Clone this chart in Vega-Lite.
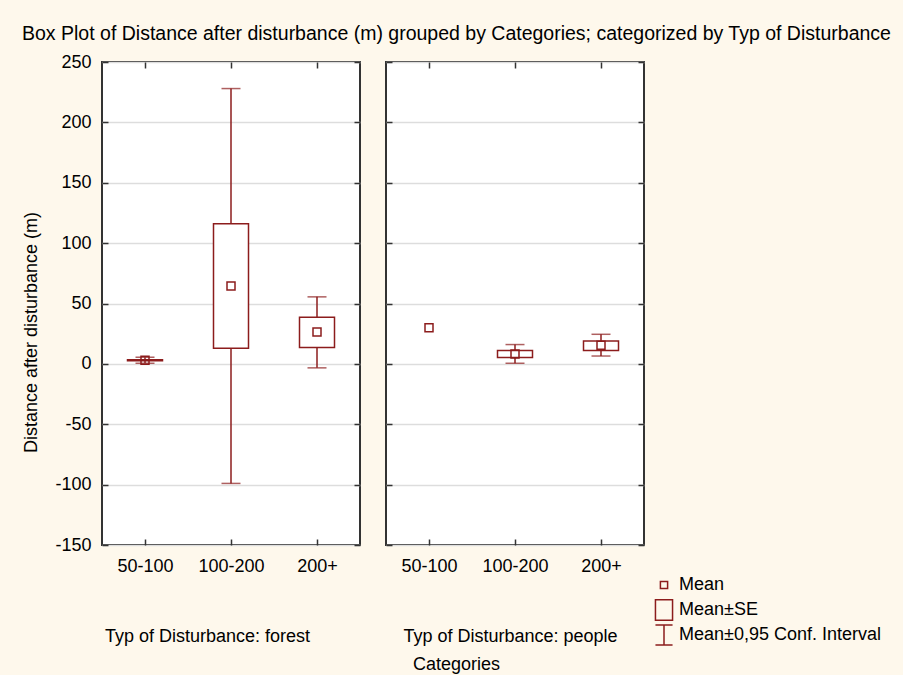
{
  "$schema": "https://vega.github.io/schema/vega-lite/v6.json",
  "autosize": {"type": "pad"},
  "padding": {"left": 21, "top": 23, "right": 80, "bottom": 30},
  "background": "#FEF8EC",
  "title": {
    "text": "Box Plot of Distance after disturbance (m) grouped by  Categories; categorized by Typ of Disturbance",
    "anchor": "start",
    "frame": "group",
    "dx": -80,
    "offset": 8,
    "font": "Liberation Sans",
    "fontSize": 19.5,
    "fontWeight": "normal",
    "color": "#000000"
  },
  "datasets": {
    "stats": [
      {"panel": "forest", "cat": "50-100", "mean": 3, "se_lo": 2.5, "se_hi": 3.5, "ci_lo": 0.5, "ci_hi": 5.5},
      {"panel": "forest", "cat": "100-200", "mean": 64.5, "se_lo": 13, "se_hi": 116, "ci_lo": -99, "ci_hi": 228},
      {"panel": "forest", "cat": "200+", "mean": 26.5, "se_lo": 13.5, "se_hi": 38.7, "ci_lo": -3.3, "ci_hi": 55.5},
      {"panel": "people", "cat": "50-100", "mean": 30, "se_lo": null, "se_hi": null, "ci_lo": null, "ci_hi": null},
      {"panel": "people", "cat": "100-200", "mean": 8.2, "se_lo": 5.3, "se_hi": 11, "ci_lo": 0.5, "ci_hi": 16},
      {"panel": "people", "cat": "200+", "mean": 15.5, "se_lo": 11, "se_hi": 19, "ci_lo": 6.5, "ci_hi": 24.5}
    ]
  },
  "config": {
    "view": {"stroke": "#333333", "strokeWidth": 2, "fill": "#FFFFFF"},
    "axis": {
      "labelFont": "Liberation Sans",
      "labelFontSize": 18,
      "labelColor": "#000000",
      "titleFont": "Liberation Sans",
      "titleFontSize": 18,
      "titleFontWeight": "normal",
      "titleColor": "#000000",
      "domain": false,
      "tickColor": "#333333",
      "tickWidth": 1.5
    },
    "concat": {"spacing": 22}
  },
  "hconcat": [
    {
      "width": 258,
      "height": 483,
      "data": {"name": "stats"},
      "transform": [{"filter": "datum.panel === 'forest'"}],
      "resolve": {"axis": {"x": "independent", "y": "independent"}},
      "layer": [
        {
          "mark": {"type": "rule", "color": "#8C1C1C", "strokeWidth": 1.5},
          "encoding": {
            "x": {"field": "cat", "type": "nominal",
              "scale": {"type": "point", "padding": 0.5, "domain": ["50-100", "100-200", "200+"]},
              "axis": {"orient": "bottom", "title": "Typ of Disturbance: forest", "labelAngle": 0, "tickSize": -6, "labelPadding": 18, "titlePadding": 52, "titleX": 105, "grid": false}},
            "y": {"field": "ci_lo", "type": "quantitative", "scale": {"domain": [-150, 250], "nice": false},
              "axis": {"orient": "left", "title": "Distance after disturbance (m)", "values": [-150, -100, -50, 0, 50, 100, 150, 200, 250], "labelExpr": "'' + datum.value", "tickSize": -6, "labelPadding": 17, "titlePadding": 14, "titleY": 270, "gridColor": "#DDDDDD", "gridWidth": 1.5}},
            "y2": {"field": "ci_hi"}
          }
        },
        {
          "mark": {"type": "tick", "color": "#8C1C1C", "thickness": 1.5, "size": 19},
          "encoding": {
            "x": {"field": "cat", "type": "nominal",
              "axis": {"orient": "top", "title": null, "labels": false, "tickSize": -6, "grid": false}},
            "y": {"field": "ci_lo", "type": "quantitative",
              "axis": {"orient": "right", "title": null, "labels": false, "values": [-150, -100, -50, 0, 50, 100, 150, 200, 250], "tickSize": -6, "grid": false}}
          }
        },
        {
          "mark": {"type": "tick", "color": "#8C1C1C", "thickness": 1.5, "size": 19},
          "encoding": {
            "x": {"field": "cat", "type": "nominal", "axis": null},
            "y": {"field": "ci_hi", "type": "quantitative", "axis": null}
          }
        },
        {
          "mark": {"type": "bar", "fill": "#FFFFFF", "stroke": "#8C1C1C", "strokeWidth": 1.5, "size": 35},
          "encoding": {
            "x": {"field": "cat", "type": "nominal", "axis": null},
            "y": {"field": "se_lo", "type": "quantitative", "axis": null},
            "y2": {"field": "se_hi"}
          }
        },
        {
          "mark": {"type": "point", "shape": "M-0.4,-0.4H0.4V0.4H-0.4Z", "size": 400, "filled": false, "color": "#8C1C1C", "strokeWidth": 1.5, "opacity": 1},
          "encoding": {
            "x": {"field": "cat", "type": "nominal", "axis": null},
            "y": {"field": "mean", "type": "quantitative", "axis": null}
          }
        }
      ]
    },
    {
      "width": 258,
      "height": 483,
      "data": {"name": "stats"},
      "transform": [{"filter": "datum.panel === 'people'"}],
      "resolve": {"axis": {"x": "independent", "y": "independent"}},
      "title": {"text": "Categories", "orient": "bottom", "anchor": "start", "frame": "group", "dx": 27, "offset": 11, "font": "Liberation Sans", "fontSize": 18, "fontWeight": "normal", "color": "#000000"},
      "layer": [
        {
          "mark": {"type": "rule", "color": "#8C1C1C", "strokeWidth": 1.5},
          "encoding": {
            "x": {"field": "cat", "type": "nominal",
              "scale": {"type": "point", "padding": 0.5, "domain": ["50-100", "100-200", "200+"]},
              "axis": {"orient": "bottom", "title": "Typ of Disturbance: people", "labelAngle": 0, "tickSize": -6, "labelPadding": 18, "titlePadding": 52, "titleX": 124, "grid": false}},
            "y": {"field": "ci_lo", "type": "quantitative", "scale": {"domain": [-150, 250], "nice": false},
              "axis": {"orient": "left", "title": null, "labels": false, "values": [-150, -100, -50, 0, 50, 100, 150, 200, 250], "tickSize": -6, "gridColor": "#DDDDDD", "gridWidth": 1.5}},
            "y2": {"field": "ci_hi"}
          }
        },
        {
          "mark": {"type": "tick", "color": "#8C1C1C", "thickness": 1.5, "size": 19},
          "encoding": {
            "x": {"field": "cat", "type": "nominal",
              "axis": {"orient": "top", "title": null, "labels": false, "tickSize": -6, "grid": false}},
            "y": {"field": "ci_lo", "type": "quantitative",
              "axis": {"orient": "right", "title": null, "labels": false, "values": [-150, -100, -50, 0, 50, 100, 150, 200, 250], "tickSize": -6, "grid": false}}
          }
        },
        {
          "mark": {"type": "tick", "color": "#8C1C1C", "thickness": 1.5, "size": 19},
          "encoding": {
            "x": {"field": "cat", "type": "nominal", "axis": null},
            "y": {"field": "ci_hi", "type": "quantitative", "axis": null}
          }
        },
        {
          "mark": {"type": "bar", "fill": "#FFFFFF", "stroke": "#8C1C1C", "strokeWidth": 1.5, "size": 35},
          "encoding": {
            "x": {"field": "cat", "type": "nominal", "axis": null},
            "y": {"field": "se_lo", "type": "quantitative", "axis": null},
            "y2": {"field": "se_hi"}
          }
        },
        {
          "mark": {"type": "point", "size": 400, "filled": false, "color": "#8C1C1C", "strokeWidth": 1.5, "opacity": 1},
          "encoding": {
            "x": {"field": "cat", "type": "nominal", "axis": null},
            "y": {"field": "mean", "type": "quantitative", "axis": null},
            "shape": {
              "datum": "Mean",
              "scale": {
                "domain": ["Mean", "Mean±SE", "Mean±0,95 Conf. Interval"],
                "range": ["M-0.4,-0.4H0.4V0.4H-0.4Z", "M-0.95,-1.15H0.95V1.15H-0.95Z", "M-0.95,-1.1H0.95M0,-1.1V1.1M-0.95,1.1H0.95"]
              },
              "legend": {
                "title": null,
                "orient": "none",
                "legendX": 552,
                "legendY": 513,
                "symbolSize": 324,
                "symbolStrokeColor": "#8C1C1C",
                "symbolFillColor": "transparent",
                "symbolStrokeWidth": 1.5,
                "labelFont": "Liberation Sans",
                "labelFontSize": 18,
                "labelColor": "#000000",
                "labelOffset": 5,
                "labelLimit": 400,
                "gridAlign": "all",
                "rowPadding": -3
              }
            }
          }
        }
      ]
    }
  ]
}
